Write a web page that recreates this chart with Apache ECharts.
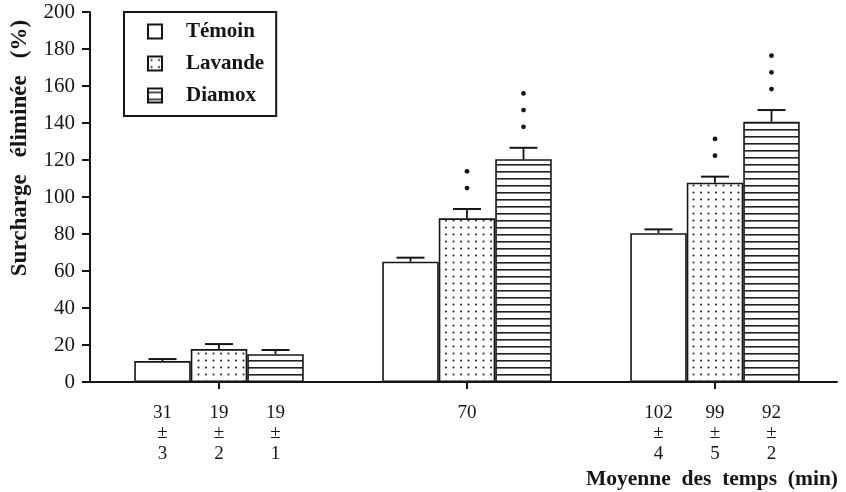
<!DOCTYPE html>
<html><head><meta charset="utf-8">
<script src="https://cdn.jsdelivr.net/npm/echarts@6/dist/echarts.min.js"></script>
<style>html,body{margin:0;padding:0;background:#fff}#c{width:846px;height:492px}</style>
</head><body><div id="c"></div>
<script>
// ---- data ----
const categories = ['G1', 'G2', 'G3'];
const seriesNames = ['Témoin', 'Lavande', 'Diamox'];
const temoin = [11.3, 65, 80.4];
const lavande = [17.8, 88.5, 107.7];
const diamox = [15, 120.4, 140.7];
const temoinErr = [1.1, 2.2, 2.1];
const lavandeErr = [2.7, 5.0, 3.3];
const diamoxErr = [2.3, 6.2, 6.3];
const temoinTime = ['31\n±\n3', '', '102\n±\n4'];
const lavandeTime = ['19\n±\n2', '70', '99\n±\n5'];
const diamoxTime = ['19\n±\n1', '', '92\n±\n2'];
const temoinStars = [0, 0, 0];
const lavandeStars = [0, 2, 2];
const diamoxStars = [0, 3, 3];
const yMin = 0, yMax = 200, yStep = 20;

// ---- styles ----
const INK = '#151515';
const FONT = '"Liberation Serif", "DejaVu Serif", serif';
const BW = 56.5;

function dotPattern() {
  const c = document.createElement('canvas');
  c.width = 15; c.height = 14;
  const g = c.getContext('2d');
  g.fillStyle = '#fff'; g.fillRect(0, 0, 15, 14);
  g.fillStyle = '#222';
  [[3.5, 3.5], [11, 3.5], [3.5, 10.5], [11, 10.5]].forEach(p => {
    g.beginPath(); g.arc(p[0], p[1], 1.05, 0, Math.PI * 2); g.fill();
  });
  return c;
}
function linePattern() {
  const c = document.createElement('canvas');
  c.width = 8; c.height = 7;
  const g = c.getContext('2d');
  g.fillStyle = '#fff'; g.fillRect(0, 0, 8, 7);
  g.fillStyle = '#222'; g.fillRect(0, 3, 8, 1.6);
  return c;
}
const fills = ['#ffffff', { image: dotPattern(), repeat: 'repeat' }, { image: linePattern(), repeat: 'repeat' }];
const values = [temoin, lavande, diamox];
const errs = [temoinErr, lavandeErr, diamoxErr];
const times = [temoinTime, lavandeTime, diamoxTime];
const stars = [temoinStars, lavandeStars, diamoxStars];

function makeErr(off) {
  return function (params, api) {
    const i = api.value(0), v = api.value(1), e = api.value(2), s = api.value(3);
    const base = api.coord([i, v]);
    const top = api.coord([i, v + e]);
    const x = base[0] + off * BW;
    const ch = [
      { type: 'line', shape: { x1: x, y1: base[1], x2: x, y2: top[1] }, style: { stroke: INK, lineWidth: 1.8 } },
      { type: 'line', shape: { x1: x - 14, y1: top[1], x2: x + 14, y2: top[1] }, style: { stroke: INK, lineWidth: 2 } }
    ];
    for (let k = 0; k < s; k++) {
      ch.push({ type: 'circle', shape: { cx: x, cy: top[1] - 21 - k * 16.7, r: 2.4 }, style: { fill: INK } });
    }
    return { type: 'group', children: ch };
  };
}

const series = [];
seriesNames.forEach((name, si) => {
  series.push({
    name: name, type: 'bar', xAxisIndex: 0, yAxisIndex: 0,
    data: values[si], barWidth: BW, barGap: '0%',
    itemStyle: { color: fills[si], borderColor: INK, borderWidth: 1.6 },
    label: {
      show: true, position: 'bottom', distance: 20.5,
      formatter: p => times[si][p.dataIndex],
      fontFamily: FONT, fontSize: 19, lineHeight: 20.5, color: INK
    },
    silent: true, animation: false
  });
});
seriesNames.forEach((name, si) => {
  series.push({
    type: 'custom', xAxisIndex: 0, yAxisIndex: 0, z: 5,
    renderItem: makeErr(si - 1),
    encode: { x: 0, y: 1 },
    data: categories.map((c, i) => [i, values[si][i], errs[si][i], stars[si][i]]),
    silent: true, animation: false
  });
});

const chart = echarts.init(document.getElementById('c'), null, { renderer: 'canvas' });
chart.setOption({
  backgroundColor: '#fff',
  animation: false,
  title: {
    text: 'Moyenne  des  temps  (min)', right: 3, top: 463,
    textStyle: { fontFamily: FONT, fontSize: 21.5, fontWeight: 'bold', color: INK }
  },
  legend: {
    data: seriesNames, orient: 'vertical', left: 124, top: 12,
    padding: [9, 12, 10, 23], itemGap: 11, itemWidth: 14, itemHeight: 14,
    icon: 'rect', borderColor: INK, borderWidth: 2, backgroundColor: '#fff',
    selectedMode: false,
    textStyle: { fontFamily: FONT, fontSize: 21, fontWeight: 'bold', color: INK, lineHeight: 21, padding: [0, 0, 0, 19] }
  },
  grid: [
    { left: 95, right: 7, top: 12, bottom: 110, outerBoundsMode: 'none', containLabel: false },
    { left: 90, right: 9, top: 12, bottom: 110, outerBoundsMode: 'none', containLabel: false }
  ],
  xAxis: [
    { type: 'category', gridIndex: 0, data: categories,
      axisLine: { show: false }, axisLabel: { show: false },
      axisTick: { show: true, alignWithLabel: true, length: 7, lineStyle: { color: INK, width: 2 } } },
    { type: 'category', gridIndex: 1, data: categories,
      axisLine: { show: true, lineStyle: { color: INK, width: 2 } },
      axisTick: { show: false }, axisLabel: { show: false } }
  ],
  yAxis: [
    { type: 'value', gridIndex: 0, min: yMin, max: yMax, interval: yStep, show: false, splitLine: { show: false } },
    { type: 'value', gridIndex: 1, min: yMin, max: yMax, interval: yStep,
      name: 'Surcharge   éliminée   (%)', nameLocation: 'middle', nameGap: 58,
      nameTextStyle: { fontFamily: FONT, fontSize: 23, fontWeight: 'bold', color: INK, padding: [0, 0, 0, 98] },
      axisLine: { show: true, lineStyle: { color: INK, width: 2 } },
      axisTick: { show: true, length: 8, lineStyle: { color: INK, width: 2 } },
      axisLabel: { fontFamily: FONT, fontSize: 21, color: INK, margin: 15 },
      splitLine: { show: false } }
  ],
  series: series
});
</script>
</body></html>
